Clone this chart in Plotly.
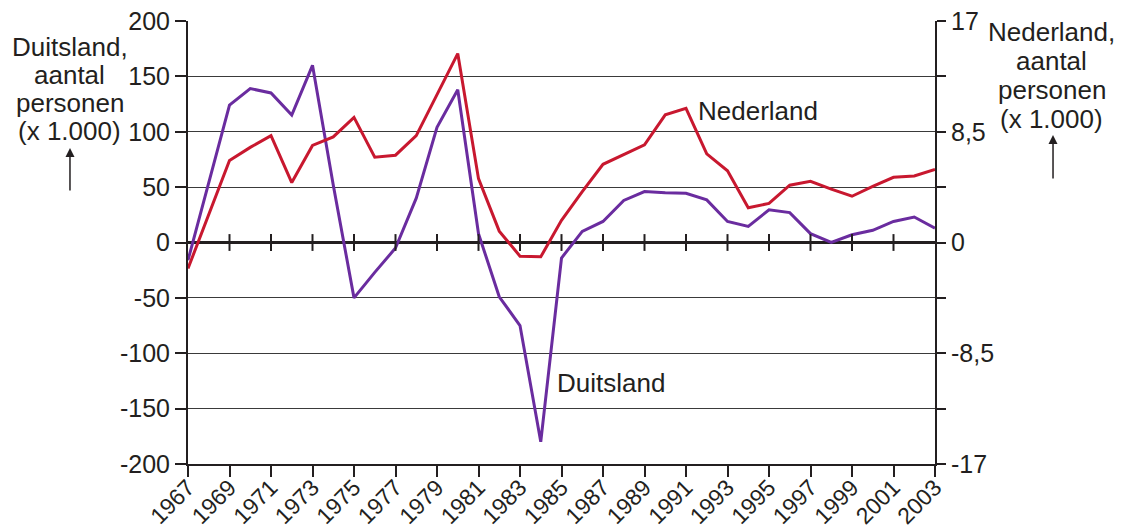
import plotly.graph_objects as go

years = list(range(1967, 2004))
duitsland = [-16, 54, 124, 139, 135, 115, 160, 52, -50, -27, -5, 40, 104, 138,
             8, -49, -75, -180, -14, 10, 19, 38, 46, 45, 44.5, 38.5, 19, 14.5,
             29.5, 27, 8, 0, 7, 11, 19, 23, 13]
nederland = [-2.0, 2.2, 6.3, 7.3, 8.2, 4.6, 7.45, 8.1, 9.6, 6.55, 6.7, 8.2, 11.4, 14.5,
             4.9, 0.87, -1.05, -1.1, 1.7, 3.9, 6.0, 6.75, 7.5, 9.8, 10.3, 6.8, 5.5, 2.66,
             3.0, 4.4, 4.7, 4.1, 3.55, 4.3, 5.0, 5.1, 5.6]

year_ticks = list(range(1967, 2004, 2))
left_ticks = [-200, -150, -100, -50, 0, 50, 100, 150, 200]
left_labels = ["-200", "-150", "-100", "-50", "0", "50", "100", "150", "200"]
right_ticks = [-17, -12.75, -8.5, -4.25, 0, 4.25, 8.5, 12.75, 17]
right_labels = ["-17", "", "-8,5", "", "0", "", "8,5", "", "17"]
left_title = ["Duitsland,", "aantal", "personen", "(x 1.000)"]
right_title = ["Nederland,", "aantal", "personen", "(x 1.000)"]

PURPLE = "#6a2c9f"
RED = "#c8182f"
FONT = "Liberation Sans, Arial, sans-serif"
TXT = "#231f20"

fig = go.Figure()
fig.add_trace(go.Scatter(x=years, y=duitsland, mode="lines", line=dict(color=PURPLE, width=3),
                         yaxis="y", hoverinfo="skip", showlegend=False))
fig.add_trace(go.Scatter(x=years, y=nederland, mode="lines", line=dict(color=RED, width=3),
                         yaxis="y2", hoverinfo="skip", showlegend=False))
# tick marks on the zero line
fig.add_trace(go.Scatter(x=year_ticks[1:-1], y=[0] * (len(year_ticks) - 2), mode="markers",
                         marker=dict(symbol="line-ns", size=12, line=dict(color=TXT, width=2)),
                         yaxis="y", hoverinfo="skip", showlegend=False))

# the page body adds an 8px offset, so the figure is sized to the visible area
fig.update_layout(
    width=1117, height=523,
    margin=dict(l=180, r=190, t=13, b=67),
    paper_bgcolor="white", plot_bgcolor="white",
    font=dict(family=FONT, size=25, color=TXT),
    xaxis=dict(range=[1967, 2003], tickvals=year_ticks, tickangle=-45, automargin=False,
               ticks="outside", ticklen=11, tickwidth=2, tickcolor=TXT,
               ticklabeloverflow="allow", ticklabelstandoff=-12,
               showline=True, linecolor=TXT, linewidth=2,
               showgrid=False, zeroline=False, tickfont=dict(size=23, color=TXT)),
    yaxis=dict(range=[-200, 200], tickvals=left_ticks, ticktext=left_labels, automargin=False,
               ticks="outside", ticklen=11, tickwidth=2, tickcolor=TXT,
               ticklabeloverflow="allow",
               showline=True, linecolor=TXT, linewidth=2,
               showgrid=True, gridcolor="#3a3a3a", gridwidth=1,
               zeroline=True, zerolinecolor=TXT, zerolinewidth=3,
               tickfont=dict(size=25, color=TXT)),
    yaxis2=dict(range=[-17, 17], overlaying="y", side="right", tickvals=right_ticks,
                ticktext=right_labels, automargin=False, ticks="outside", ticklen=9, tickwidth=2,
                ticklabeloverflow="allow",
                tickcolor=TXT, showline=True, linecolor=TXT, linewidth=2,
                showgrid=False, zeroline=False, tickfont=dict(size=25, color=TXT)),
)

ann_font = dict(family=FONT, size=26, color=TXT)
left_y = [0.9413, 0.878, 0.815, 0.7517]
right_y = [0.975, 0.9097, 0.844, 0.779]
for txt, yy in zip(left_title, left_y):
    fig.add_annotation(text=txt, xref="paper", yref="paper", x=-0.158, y=yy,
                       xanchor="center", yanchor="middle", showarrow=False, font=ann_font)
for txt, yy in zip(right_title, right_y):
    fig.add_annotation(text=txt, xref="paper", yref="paper", x=1.156, y=yy,
                       xanchor="center", yanchor="middle", showarrow=False, font=ann_font)
fig.add_annotation(text="", xref="paper", yref="paper", x=-0.158, y=0.7133, ax=0, ay=44,
                   showarrow=True, arrowhead=2, arrowsize=1.2, arrowwidth=1.5, arrowcolor=TXT)
fig.add_annotation(text="", xref="paper", yref="paper", x=1.158, y=0.7427, ax=0, ay=45,
                   showarrow=True, arrowhead=2, arrowsize=1.2, arrowwidth=1.5, arrowcolor=TXT)
fig.add_annotation(text="Nederland", x=1991.5, y=119, yref="y", xanchor="left", yanchor="middle",
                   showarrow=False, font=ann_font)
fig.add_annotation(text="Duitsland", x=1984.69, y=-127, yref="y", xanchor="left", yanchor="middle",
                   showarrow=False, font=ann_font)

fig.write_html("out.html")
